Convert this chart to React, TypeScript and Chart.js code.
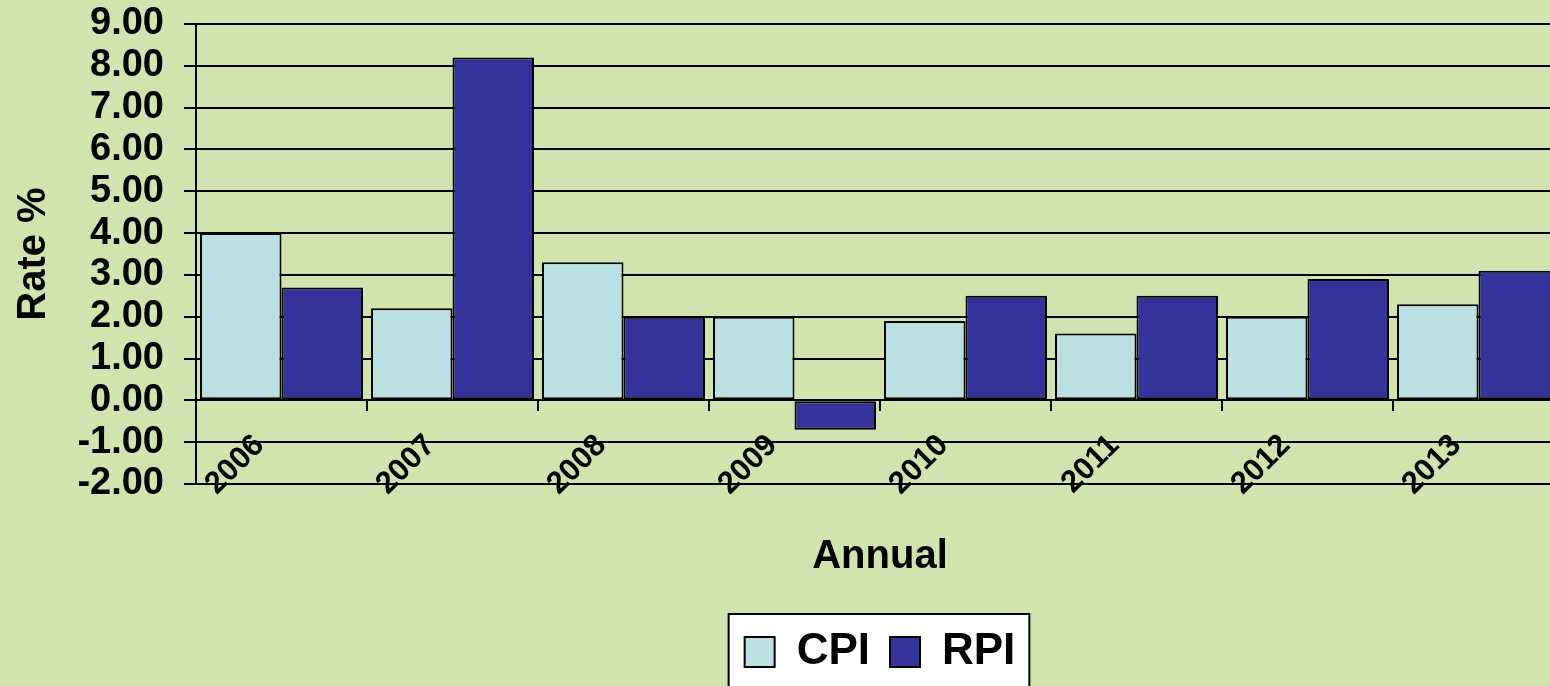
import React, { useEffect, useRef } from 'react';
import { Chart, registerables } from 'chart.js';

Chart.register(...registerables);

const categories = ['2006', '2007', '2008', '2009', '2010', '2011', '2012', '2013'];
const cpiValues = [4.0, 2.2, 3.3, 2.0, 1.9, 1.6, 2.0, 2.3];
const rpiValues = [2.7, 8.2, 2.0, -0.7, 2.5, 2.5, 2.9, 3.1];
const seriesNames = ['CPI', 'RPI'];
const yMin = -2;
const yMax = 9;
const yStep = 1;
const xTitle = 'Annual';
const yTitle = 'Rate %';

const BG = '#CFE4AE';
const CPI_COLOR = '#BBE0E3';
const RPI_COLOR = '#333399';
const FONT = '"Liberation Sans", Arial, sans-serif';

const CANVAS_W = 1600;
const CANVAS_H = 700;

export default function App() {
  const ref = useRef<HTMLCanvasElement | null>(null);

  useEffect(() => {
    if (!ref.current) return;
    const bgPlugin = {
      id: 'bgLegendBox',
      beforeDraw(chart: any) {
        const ctx = chart.ctx;
        ctx.save();
        ctx.fillStyle = BG;
        ctx.fillRect(0, 0, chart.width, chart.height);
        const lg = chart.legend;
        if (lg && lg.legendHitBoxes && lg.legendHitBoxes.length) {
          const hb = lg.legendHitBoxes;
          const l = Math.min(...hb.map((h: any) => h.left)) - 16;
          const r = Math.max(...hb.map((h: any) => h.left + h.width)) + 14;
          const t = Math.min(...hb.map((h: any) => h.top)) - 16;
          const b = Math.max(...hb.map((h: any) => h.top + h.height)) + 30;
          ctx.fillStyle = '#ffffff';
          ctx.fillRect(l, t, r - l, b - t);
          ctx.strokeStyle = '#000';
          ctx.lineWidth = 2;
          ctx.strokeRect(l, t, r - l, b - t);
        }
        ctx.restore();
      },
    };

    const chart = new Chart(ref.current, {
      type: 'bar',
      data: {
        labels: categories,
        datasets: [
          {
            label: seriesNames[0],
            data: cpiValues,
            backgroundColor: CPI_COLOR,
            borderColor: '#000',
            borderWidth: 2,
            borderSkipped: false,
            categoryPercentage: 0.953,
            barPercentage: 1,
          },
          {
            label: seriesNames[1],
            data: rpiValues,
            backgroundColor: RPI_COLOR,
            borderColor: '#000',
            borderWidth: 2,
            borderSkipped: false,
            categoryPercentage: 0.953,
            barPercentage: 1,
          },
        ],
      },
      options: {
        responsive: false,
        animation: false,
        layout: { padding: { top: 24, right: CANVAS_W - 1564, bottom: 16, left: 0 } },
        scales: {
          x: {
            position: { y: 0 } as any,
            offset: true,
            ticks: {
              autoSkip: false,
              minRotation: 45,
              maxRotation: 45,
              color: '#000',
              font: { family: FONT, size: 31, weight: 'bold' },
              padding: 17,
              labelOffset: -22,
            },
            grid: {
              offset: true,
              drawOnChartArea: false,
              drawTicks: true,
              tickLength: 10,
              color: '#000',
              lineWidth: 2,
            },
            border: { display: true, color: '#000', width: 2 },
          },
          y: {
            min: yMin,
            max: yMax,
            ticks: {
              stepSize: yStep,
              autoSkip: false,
              callback: (v: any) => Number(v).toFixed(2),
              color: '#000',
              font: { family: FONT, size: 38, weight: 'bold' },
              padding: 20,
            },
            grid: { color: '#000', lineWidth: 2, tickLength: 12, drawTicks: true },
            border: { color: '#000', width: 2 },
            title: {
              display: true,
              text: yTitle,
              color: '#000',
              font: { family: FONT, size: 40, weight: 'bold' },
              padding: { top: 10, bottom: 0 },
            },
            afterFit: (s: any) => {
              s.width = 196;
              s.paddingTop = 0;
              s.paddingBottom = 0;
            },
          },
        },
        plugins: {
          title: {
            display: true,
            text: xTitle,
            position: 'bottom',
            fullSize: false,
            weight: 500,
            color: '#000',
            font: { family: FONT, size: 40, weight: 'bold' },
            padding: { top: 49, bottom: 29 },
          },
          legend: {
            display: true,
            position: 'bottom',
            fullSize: false,
            labels: {
              boxWidth: 30,
              boxHeight: 30,
              padding: 20,
              color: '#000',
              font: { family: FONT, size: 44, weight: 'bold' },
            },
          },
          tooltip: { enabled: false },
        },
      },
      plugins: [bgPlugin],
    });
    return () => chart.destroy();
  }, []);

  return (
    <div
      style={{
        position: 'fixed',
        left: 0,
        top: 0,
        width: 1550,
        height: 686,
        overflow: 'hidden',
        background: BG,
      }}
    >
      <canvas ref={ref} width={CANVAS_W} height={CANVAS_H} style={{ display: 'block' }} />
    </div>
  );
}
